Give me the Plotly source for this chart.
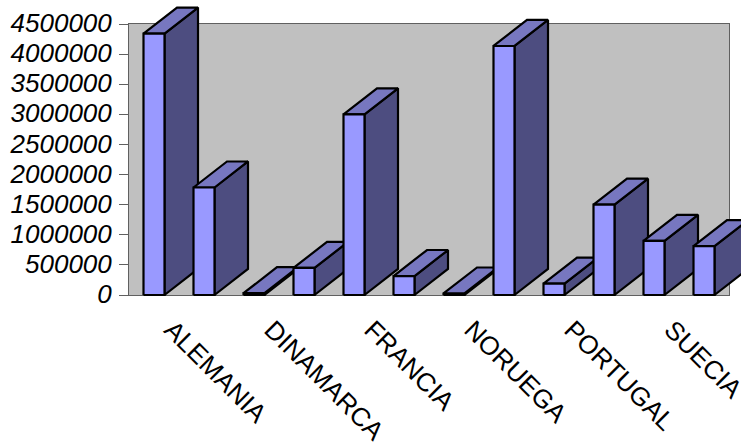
import plotly.graph_objects as go

# One value per slot along the category axis; only every second slot is labelled.
slots = list(range(12))
values = [4340000, 1785000, 30000, 450000, 3000000, 315000,
          25000, 4135000, 190000, 1500000, 900000, 810000]
label_slots = [0, 2, 4, 6, 8, 10]
labels = ["ALEMANIA", "DINAMARCA", "FRANCIA", "NORUEGA", "PORTUGAL", "SUECIA"]
y_ticks = [0, 500000, 1000000, 1500000, 2000000, 2500000,
           3000000, 3500000, 4000000, 4500000]

WIDTH, HEIGHT = 741, 448
LEFT, RIGHT, TOP_PX, BASE_PX = 129, 729, 24, 295
X_MIN, X_MAX = -0.5, 11.5
Y_MAX = 4500000
HALF_WIDTH = 0.21
DEPTH_X = 0.67
DEPTH_Y = 432000
FRONT, TOP, SIDE = "#9999FF", "#7777C0", "#4D4D80"

# The columns rise out of the wall and past its edges, so they sit on a second
# pair of axes that covers the whole page with the same scale as the wall axes.
units_per_px_x = (X_MAX - X_MIN) / (RIGHT - LEFT)
units_per_px_y = Y_MAX / (BASE_PX - TOP_PX)
page_x = [X_MIN - LEFT * units_per_px_x, X_MAX + (WIDTH - RIGHT) * units_per_px_x]
page_y = [-(HEIGHT - BASE_PX) * units_per_px_y, BASE_PX * units_per_px_y]


def face(xs, ys, color):
    return go.Scatter(
        x=xs + xs[:1], y=ys + ys[:1], mode="lines", fill="toself", fillcolor=color,
        line=dict(color="black", width=2.2), xaxis="x2", yaxis="y2",
        showlegend=False, hoverinfo="skip",
    )


fig = go.Figure()
# Back wall of the chart, on the visible axes.
fig.add_trace(go.Scatter(
    x=[X_MIN, X_MAX, X_MAX, X_MIN, X_MIN], y=[0, 0, Y_MAX, Y_MAX, 0],
    mode="lines", fill="toself", fillcolor="#C0C0C0", line=dict(width=0),
    showlegend=False, hoverinfo="skip",
))
for slot, v in zip(slots, values):
    x0, x1 = slot - HALF_WIDTH, slot + HALF_WIDTH
    # Extruded column: right side, top cap, then the front on top of both.
    fig.add_trace(face([x1, x1 + DEPTH_X, x1 + DEPTH_X, x1],
                       [0, DEPTH_Y, v + DEPTH_Y, v], SIDE))
    fig.add_trace(face([x0, x1, x1 + DEPTH_X, x0 + DEPTH_X],
                       [v, v, v + DEPTH_Y, v + DEPTH_Y], TOP))
    fig.add_trace(face([x0, x1, x1, x0], [0, 0, v, v], FRONT))

axis_line = dict(showline=True, linecolor="#606060", linewidth=1, mirror=True,
                 showgrid=False, zeroline=False)
hidden = dict(visible=False, showgrid=False, zeroline=False)
fig.update_layout(
    width=WIDTH, height=HEIGHT, autosize=False,
    margin=dict(l=0, r=0, t=0, b=0),
    paper_bgcolor="white", plot_bgcolor="rgba(0,0,0,0)",
    font=dict(family="Liberation Sans", color="black"),
    xaxis=dict(domain=[LEFT / WIDTH, RIGHT / WIDTH], range=[X_MIN, X_MAX],
               tickmode="array", tickvals=label_slots, ticktext=labels,
               tickangle=45, ticks="", ticklabelstandoff=8, ticklabelshift=18,
               ticklabeloverflow="allow",
               tickfont=dict(size=26), automargin=False, **axis_line),
    yaxis=dict(domain=[1 - BASE_PX / HEIGHT, 1 - TOP_PX / HEIGHT], range=[0, Y_MAX],
               tickmode="array", tickvals=y_ticks,
               ticktext=[str(t) for t in y_ticks], ticks="outside", ticklen=9,
               tickcolor="#606060", ticklabelstandoff=2, ticklabelshift=-1,
               tickfont=dict(size=26, style="italic"), automargin=False, **axis_line),
    xaxis2=dict(domain=[0, 1], range=page_x, anchor="y2", **hidden),
    yaxis2=dict(domain=[0, 1], range=page_y, anchor="x2", **hidden),
)
fig.write_html("out.html", config=dict(displayModeBar=False))
